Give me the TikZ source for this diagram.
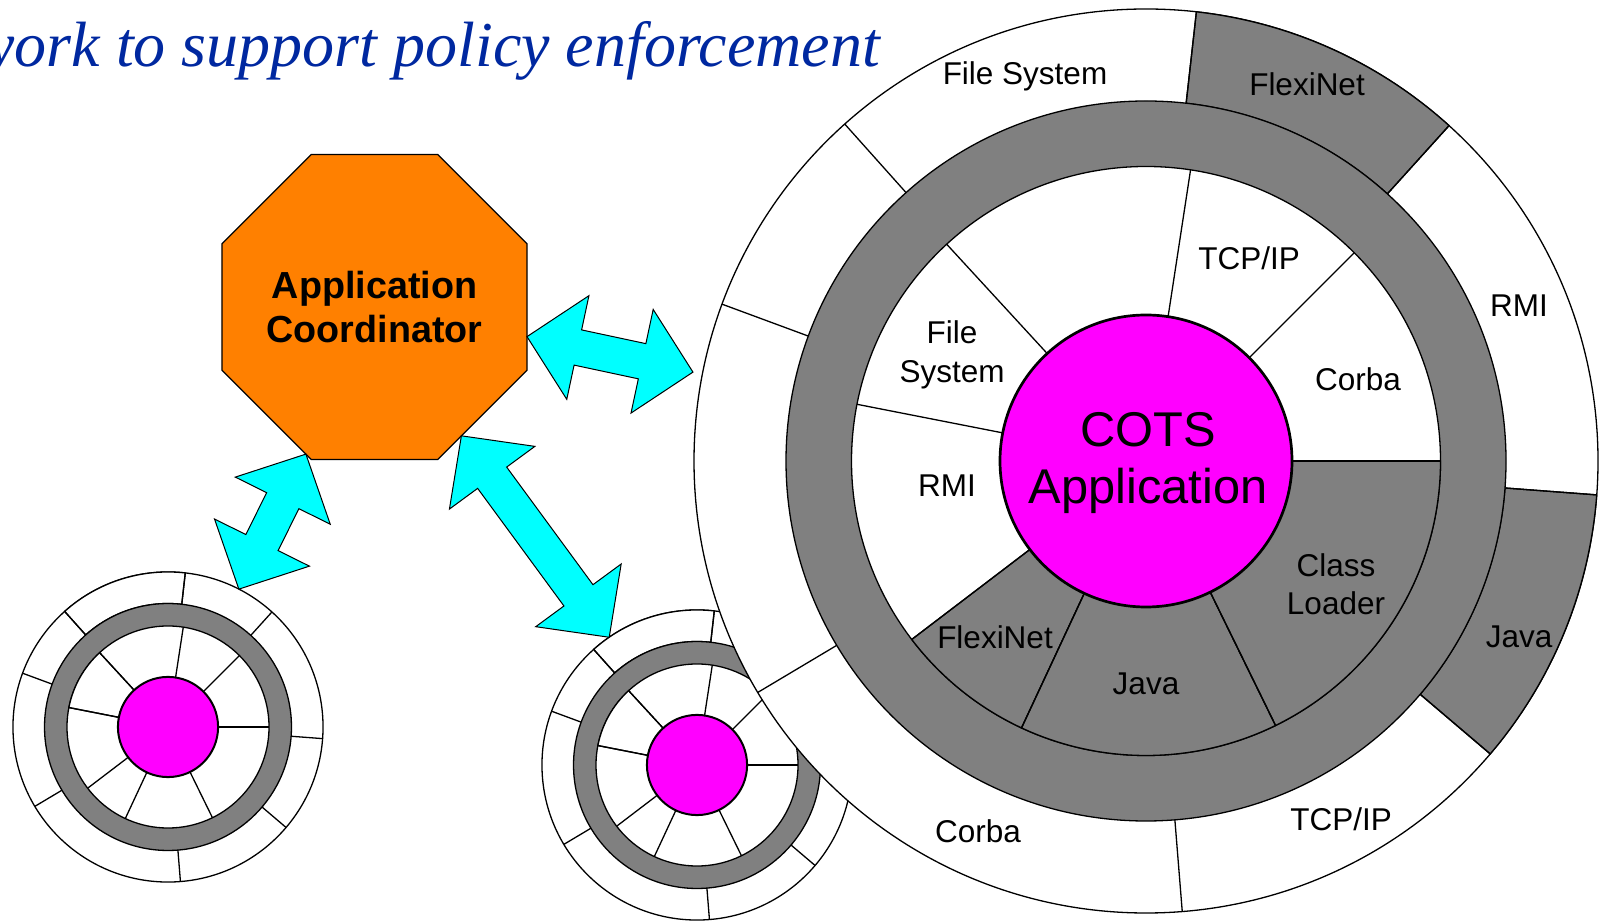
\documentclass[tikz,border=0pt]{standalone}
\usepackage{fontspec}
\setmainfont{Liberation Sans}
\newfontfamily\titlefont{Liberation Serif}
\usetikzlibrary{shapes.geometric,calc}

\definecolor{coordorange}{RGB}{255,128,0}
\definecolor{arrowcyan}{RGB}{0,255,255}
\definecolor{cotsmag}{RGB}{255,0,255}
\definecolor{ringgray}{RGB}{128,128,128}
\definecolor{titleblue}{RGB}{0,40,160}

% #1 scope options, #2 outer shaded sectors, #3 inner shaded sectors, #4 rim of the hub
\newcommand{\wheel}[4]{%
  \begin{scope}[#1]
    \draw[ring,fill=white] (0,0) circle (452);
    \foreach \ga/\gb/\gc in {#2}
      \draw[ring,fill=\gc] (\ga:360) arc[start angle=\ga,end angle=\gb,radius=360] -- (\gb:452) arc[start angle=\gb,end angle=\ga,radius=452] -- cycle;
    \foreach \ga in {83.6,47.9,-4.3,-40.4,-85.4,-149.2,159.7,131.8}
      \draw[ring] (\ga:360) -- (\ga:452);
    \draw[ring,fill=ringgray] (0,0) circle (360);
    \draw[ring,fill=white] (0,0) circle (294.5);
    \foreach \ga/\gb/\gc in {#3}
      \draw[ring,fill=\gc] (\ga:146) arc[start angle=\ga,end angle=\gb,radius=146] -- (\gb:294.5) arc[start angle=\gb,end angle=\ga,radius=294.5] -- cycle;
    \foreach \ga in {81.3,45,0,-63.9,-115,-142.7,168.9,132.6}
      \draw[ring] (\ga:146) -- (\ga:294.5);
    \draw[ring,fill=cotsmag,line width=#4] (0,0) circle (146);
  \end{scope}}

% #1 one end, #2 other end, #3 name
\newcommand{\dblarrow}[3]{%
  \coordinate (#3a) at ($(#1)!52pt!(#2)$);
  \coordinate (#3b) at ($(#2)!52pt!(#1)$);
  \draw[bigarrow] (#1) -- ($(#3a)!53pt!90:(#2)$) -- ($(#3a)!18pt!90:(#2)$)
    -- ($(#3b)!18pt!-90:(#1)$) -- ($(#3b)!53pt!-90:(#1)$) -- (#2)
    -- ($(#3b)!53pt!90:(#1)$) -- ($(#3b)!18pt!90:(#1)$)
    -- ($(#3a)!18pt!-90:(#2)$) -- ($(#3a)!53pt!-90:(#2)$) -- cycle;}

\begin{document}
\begin{tikzpicture}[x=1pt,y=1pt]
   \tikzstyle{ring}=[draw=black, line width=1.3pt]
   \tikzstyle{seglabel}=[inner sep=0, align=center, font=\fontsize{31.5}{38.5}\selectfont]
   \tikzstyle{bigarrow}=[draw=black, line width=1pt, fill=arrowcyan]
   \tikzstyle{coordbox}=[regular polygon, regular polygon sides=8, minimum size=328pt, inner sep=0, outer sep=0, draw=black, line width=1.3pt, fill=coordorange, align=center, font=\bfseries\fontsize{37.7}{43.3}\selectfont]
   \useasboundingbox (0,0) rectangle (1605,923);
   \clip (0,0) rectangle (1605,923);
   \node[anchor=base east, inner sep=0, text=titleblue, font=\titlefont\itshape\fontsize{64}{70}\selectfont] (title) at (880,856.5) {work to support policy enforcement};
   \coordinate (wheelA) at (168,196);
   \coordinate (wheelB) at (697,158);
   \coordinate (cots) at (1146,462);
   \wheel{shift={(wheelA)},scale=0.343}{83.6/131.8/white}{132.6/168.9/white}{2pt}
   \wheel{shift={(wheelB)},scale=0.343}{83.6/131.8/white}{132.6/168.9/white}{2pt}
   \wheel{shift={(cots)}}{47.9/83.6/ringgray,-40.4/-4.3/ringgray}{-142.7/-115/ringgray,-115/-63.9/ringgray,-63.9/0/ringgray}{2.7pt}
   % outer ring
   \node[seglabel] (oFile) at (1025,847) {File System};
   \node[seglabel] (oFlexi) at (1307,839) {FlexiNet};
   \node[seglabel] (oRMI) at (1519,617) {RMI};
   \node[seglabel] (oJava) at (1519,286) {Java};
   \node[seglabel] (oTCP) at (1341,104) {TCP/IP};
   \node[seglabel] (oCorba) at (978,92) {Corba};
   % inner ring
   \node[seglabel] (iTCP) at (1249,665) {TCP/IP};
   \node[seglabel] (iCorba) at (1358,544) {Corba};
   \node[seglabel] (iFile) at (952,568) {File\\System};
   \node[seglabel] (iRMI) at (947,437) {RMI};
   \node[seglabel] (iClass) at (1336,339) {Class\\Loader};
   \node[seglabel] (iFlexi) at (995,286) {FlexiNet};
   \node[seglabel] (iJava) at (1146,239) {Java};
   \node[inner sep=0, align=center, font=\fontsize{48.8}{57}\selectfont] (cotsapp) at (1148,460) {COTS\\Application};
   \node[coordbox] (coordinator) at (374.5,616) {Application\\Coordinator};
   \coordinate (tipA) at ($(wheelA)+(62.8:155)$);
   \coordinate (tipB) at ($(wheelB)+(124.5:155)$);
   \coordinate (tipC) at ($(cots)+(168.9:461.7)$);
   \dblarrow{coordinator.-11.2}{tipC}{arrC}
   \dblarrow{coordinator.-115.9}{tipA}{arrA}
   \dblarrow{coordinator.-56.5}{tipB}{arrB}
\end{tikzpicture}
\end{document}
